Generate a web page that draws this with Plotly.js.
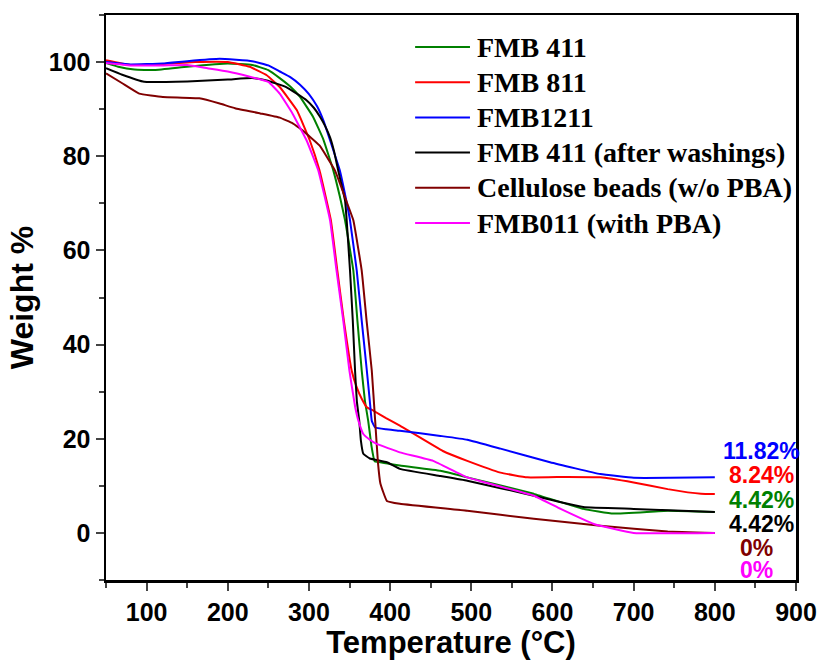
<!DOCTYPE html>
<html>
<head>
<meta charset="utf-8">
<script src="https://cdn.plot.ly/plotly-3.0.1.min.js"></script>
<style>body{margin:0;padding:0;background:#fff;} #chart{width:818px;height:661px;}</style>
</head>
<body>
<div id="chart"></div>
<script>
// Series names
const seriesNames = ['FMB 411', 'FMB 811', 'FMB1211', 'FMB 411 (after washings)', 'Cellulose beads (w/o PBA)', 'FMB011 (with PBA)'];

// FMB 411 (green)
const fmb411_T = [50, 65, 85, 110, 150, 200, 230, 250, 264, 277, 289, 305, 317.7, 330, 338, 344.5, 354.7, 359.7, 365, 369, 373, 377, 381, 395, 412, 462, 495, 577, 638, 675, 742, 800];
const fmb411_W = [99.8, 99, 98.4, 98.3, 99, 99.7, 99.4, 98.3, 96.6, 94.8, 92.6, 88.4, 83.6, 77, 71.5, 66.4, 55.7, 45.1, 34.5, 28, 23.8, 18.5, 15.2, 14.8, 14.3, 13.2, 11.8, 8.3, 5.1, 4.1, 4.7, 4.42];

// FMB 811 (red)
const fmb811_T = [50, 80, 120, 160, 200, 227, 248, 264, 285, 301, 313, 327, 335, 343, 352.6, 358.9, 365, 371.3, 379, 395, 412, 465, 495, 536, 569, 618, 659, 700, 742, 783, 800];
const fmb811_W = [100.4, 99.4, 99.6, 100, 100, 99, 97.2, 94.7, 89.8, 83.4, 77, 66.4, 55.7, 45.1, 34.5, 30.9, 28.5, 26.7, 26, 24.4, 22.8, 17.4, 15.3, 12.8, 11.8, 11.9, 11.8, 10.7, 9.3, 8.3, 8.24];

// FMB1211 (blue)
const fmb1211_T = [50, 80, 120, 150, 190, 230, 250, 264, 277, 289, 300, 310, 318, 326, 338, 346, 350.6, 358.9, 365, 371.3, 375, 377.4, 381.5, 395, 412, 462, 495, 536, 597, 659, 700, 745, 800];
const fmb1211_W = [100, 99.5, 99.7, 100.2, 100.7, 100.2, 99.3, 98, 96.8, 95.2, 93.2, 90.6, 87.5, 83.4, 77, 70.6, 66.4, 55.7, 45.1, 34.5, 28, 23.8, 22.4, 22, 21.7, 20.6, 19.8, 17.9, 15, 12.5, 11.7, 11.7, 11.82];

// FMB 411 after washings (black)
const fmb411w_T = [50, 70, 97, 150, 200, 230, 248, 272, 285, 297, 306, 313.6, 320, 326, 331, 336, 344.5, 346.5, 350.6, 354, 356.8, 359, 362, 364, 367, 375, 396, 412, 462, 495, 577, 638, 700, 800];
const fmb411w_W = [98.7, 97.3, 95.8, 95.9, 96.3, 96.6, 96.1, 94.7, 93.3, 91.9, 90.3, 88.4, 86.4, 84, 81, 77, 70.6, 66.4, 55.7, 45.1, 34.5, 28, 23.8, 19.6, 16.8, 15.8, 15, 13.6, 12.1, 11.1, 7.9, 5.5, 5.1, 4.42];

// Cellulose beads w/o PBA (brown)
const cellulose_T = [50, 70, 91, 120, 165, 190, 209, 240, 264, 280, 292, 313, 332, 345, 354.7, 365, 371, 377.4, 381.5, 385, 388, 396, 412, 495, 577, 659, 742, 800];
const cellulose_W = [97.6, 95.5, 93.3, 92.6, 92.3, 91.2, 90.2, 89.1, 88.2, 87, 85.5, 82.3, 77, 71, 66.4, 55.7, 45.1, 34.5, 24, 15, 10.5, 6.8, 6.2, 4.7, 3, 1.5, 0.3, 0];

// FMB011 with PBA (magenta)
const fmb011_T = [50, 80, 120, 150, 175, 200, 225, 250, 264, 280, 297, 311.5, 326, 334, 342.3, 349.8, 357, 361, 367, 375, 383.5, 412, 453, 495, 577, 610, 651, 700, 800];
const fmb011_W = [99.8, 99.3, 99.3, 99.4, 98.7, 98, 97, 95.8, 93.3, 89, 83.4, 77, 66.4, 55.7, 45.1, 34.5, 26.7, 23.8, 21, 19.8, 18.9, 17.1, 15.3, 11.8, 7.9, 5.1, 1.9, 0, 0];

// Residue labels (top to bottom) and the series each belongs to
const residueLabels = ['11.82%', '8.24%', '4.42%', '4.42%', '0%', '0%'];
const residueSeries = [2, 1, 0, 3, 4, 5];

const colors = ['#008000', '#ff0000', '#0000ff', '#000000', '#800000', '#ff00ff'];
const xs = [fmb411_T, fmb811_T, fmb1211_T, fmb411w_T, cellulose_T, fmb011_T];
const ys = [fmb411_W, fmb811_W, fmb1211_W, fmb411w_W, cellulose_W, fmb011_W];

const traces = seriesNames.map((n, i) => ({
  x: xs[i], y: ys[i], name: n, type: 'scatter', mode: 'lines',
  line: {color: colors[i], width: 2, shape: 'spline', smoothing: 0.3}
}));

const sansBold = 'Liberation Sans, Arial, sans-serif';
const annotations = [];
const labelY = [17.4, 12.3, 7.0, 1.9, -3.2, -7.9];
const labelX = [857, 857, 857, 857, 851, 851];
residueLabels.forEach((t, i) => {
  annotations.push({
    x: labelX[i], y: labelY[i], xref: 'x', yref: 'y', text: t, showarrow: false,
    font: {family: sansBold, size: 23, color: colors[residueSeries[i]], weight: 'bold'},
    xanchor: 'center', yanchor: 'middle'
  });
});

// Custom legend (paper coordinates, plot area 690x565)
const shapes = [];
const legTop = (580 - 47) / 565, legStep = 35.2 / 565;
seriesNames.forEach((n, i) => {
  const yy = legTop - i * legStep;
  shapes.push({type: 'line', xref: 'paper', yref: 'paper', x0: 0.448, x1: 0.5275, y0: yy, y1: yy,
    line: {color: colors[i], width: 2}});
  annotations.push({xref: 'paper', yref: 'paper', x: 0.535, y: yy, text: n, showarrow: false,
    xanchor: 'left', yanchor: 'middle',
    font: {family: 'Liberation Serif, Times New Roman, serif', size: 28, color: '#000', weight: 'bold'}});
});

const axFont = {family: sansBold, size: 25, color: '#000', weight: 'bold'};
const layout = {
  width: 818, height: 661,
  margin: {l: 106, r: 22, t: 15, b: 81},
  paper_bgcolor: '#fff', plot_bgcolor: '#fff',
  showlegend: false,
  xaxis: {
    range: [50, 900], tick0: 100, dtick: 100, ticks: 'outside', ticklen: 8, tickwidth: 2,
    showline: true, linewidth: 2.5, linecolor: '#000', mirror: true, showgrid: false, zeroline: false,
    tickfont: axFont,
    minor: {dtick: 50, tick0: 50, ticks: 'outside', ticklen: 5, tickwidth: 2, showgrid: false},
    title: {text: 'Temperature (°C)', font: {family: sansBold, size: 31, color: '#000', weight: 'bold'}, standoff: 4}
  },
  yaxis: {
    range: [-10, 110], tick0: 0, dtick: 20, ticks: 'outside', ticklen: 8, tickwidth: 2,
    showline: true, linewidth: 2.5, linecolor: '#000', mirror: true, showgrid: false, zeroline: false,
    tickfont: axFont,
    minor: {dtick: 10, tick0: 0, ticks: 'outside', ticklen: 5, tickwidth: 2, showgrid: false},
    title: {text: 'Weight %', font: {family: sansBold, size: 32, color: '#000', weight: 'bold'}, standoff: 6}
  },
  annotations: annotations,
  shapes: shapes
};

Plotly.newPlot('chart', traces, layout, {displayModeBar: false, staticPlot: true});
</script>
</body>
</html>
